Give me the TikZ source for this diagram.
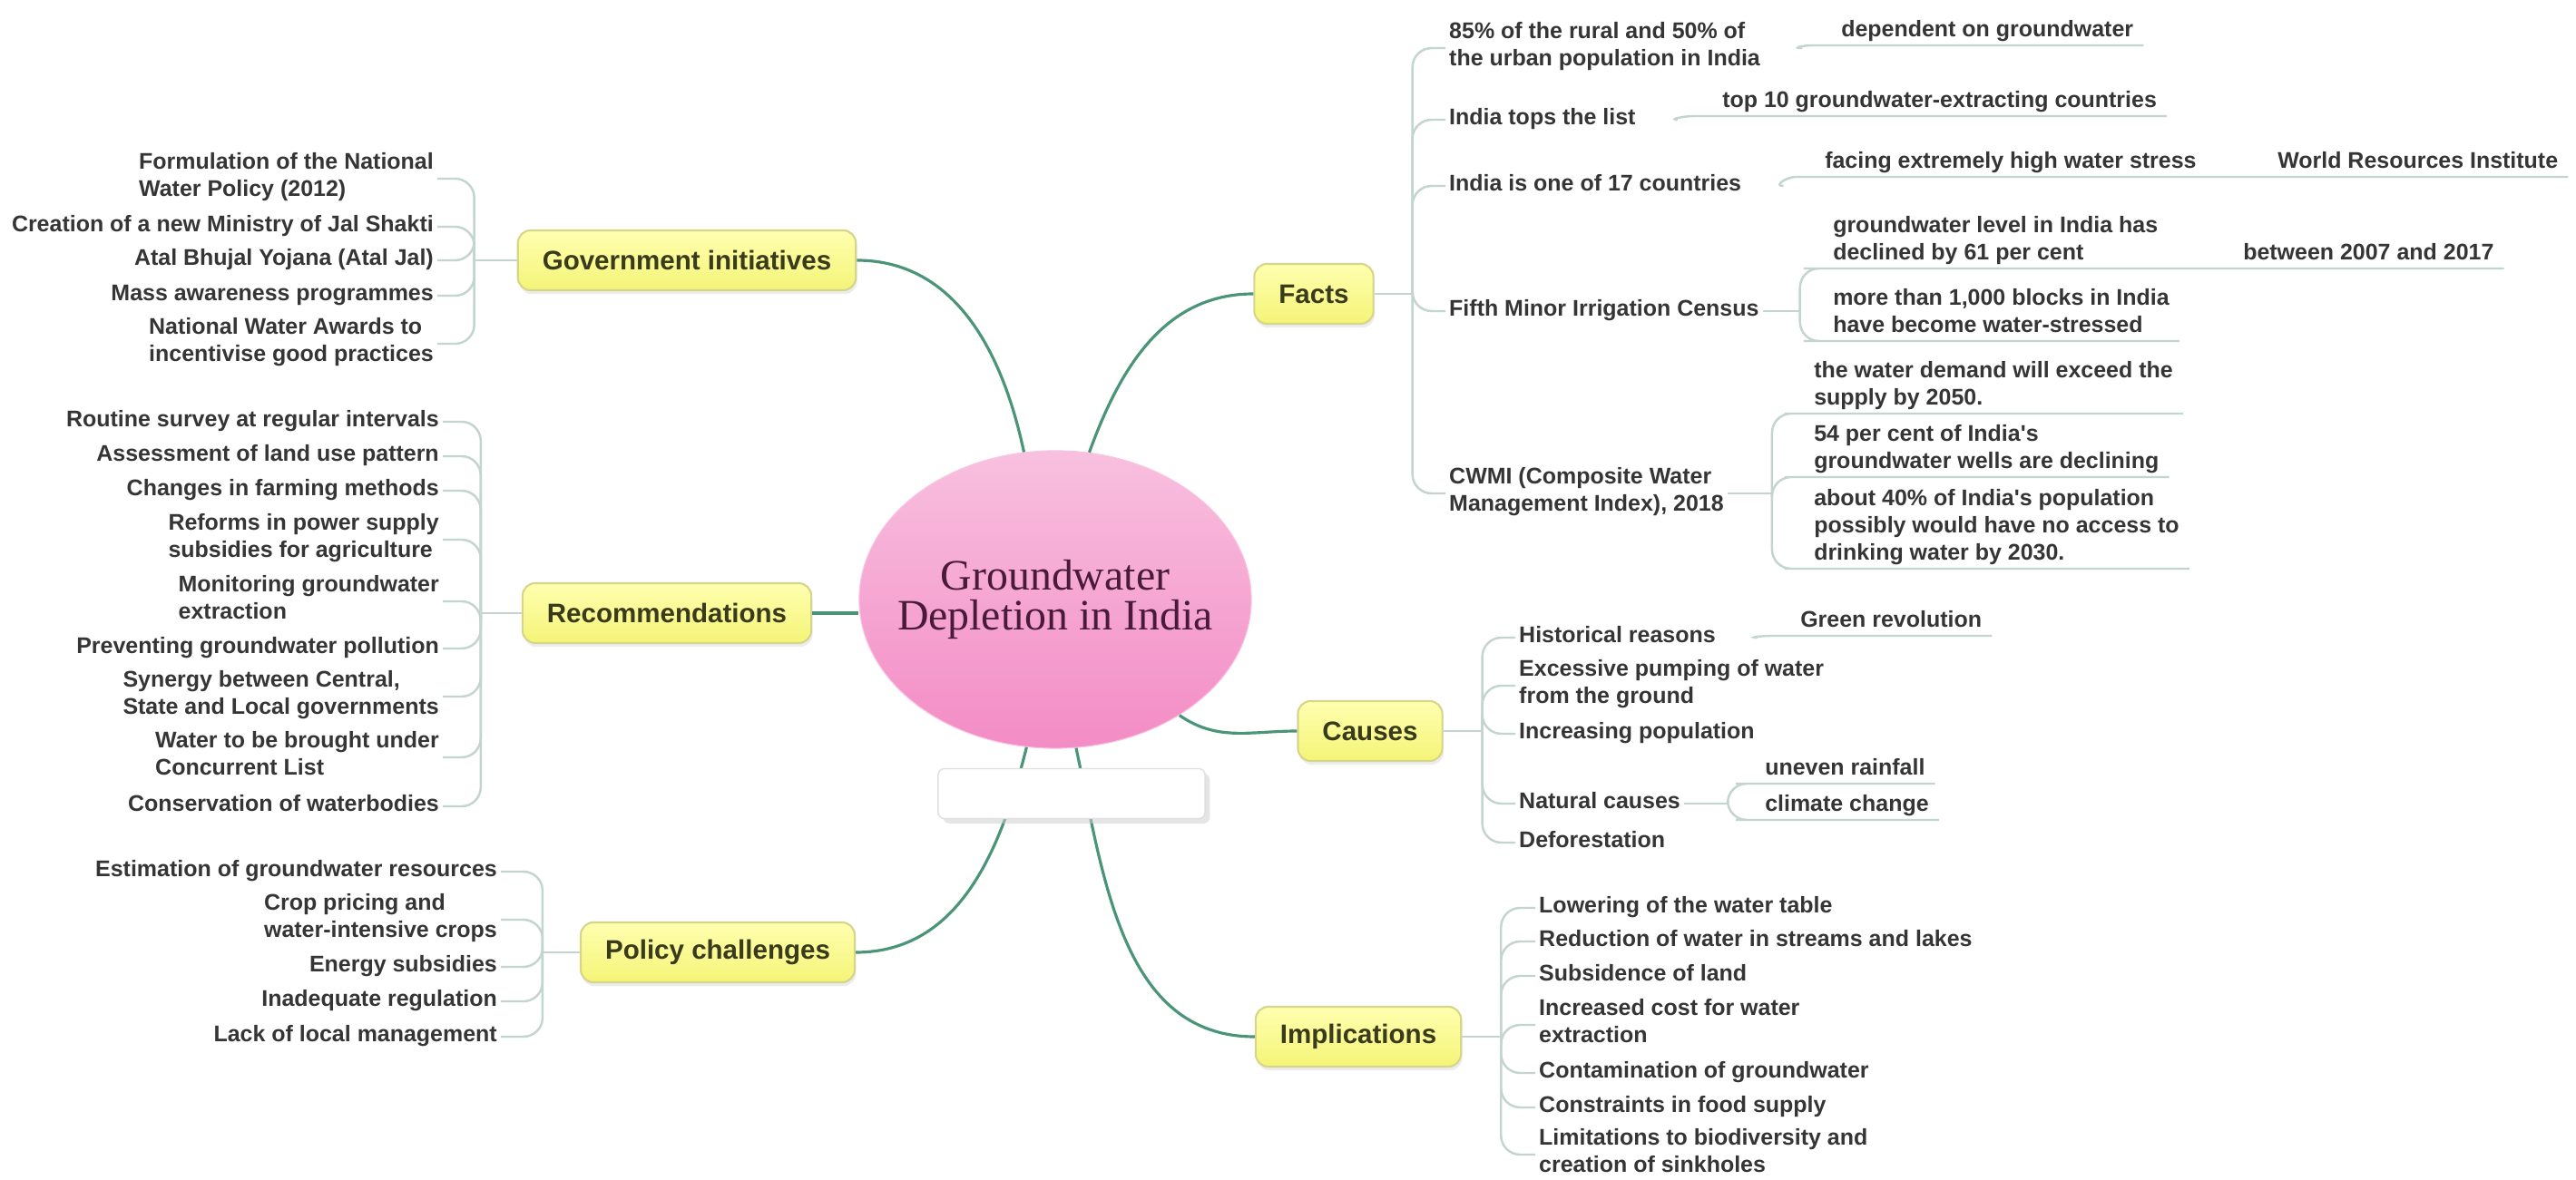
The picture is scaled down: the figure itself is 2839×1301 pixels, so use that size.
\documentclass[tikz,border=0pt]{standalone}
\usepackage{fontspec}
\newfontfamily\mapfont{Liberation Sans}
\newfontfamily\titlefont{Liberation Serif}
\usetikzlibrary{shapes.geometric,shadows}

\definecolor{branchgreen}{HTML}{4A9478}
\definecolor{twiggray}{HTML}{C3D5CE}
\definecolor{topicfillA}{HTML}{FFFFB0}
\definecolor{topicfillB}{HTML}{F4F478}
\definecolor{topicline}{HTML}{D6D68A}
\definecolor{topictext}{HTML}{3A3A1C}
\definecolor{leaftext}{HTML}{353535}
\definecolor{pinktop}{HTML}{F8C0DF}
\definecolor{pinkbot}{HTML}{F38CC5}
\definecolor{titletext}{HTML}{4A1A3A}

\begin{document}
\begin{tikzpicture}[
      x=0.01cm,
      y=0.01cm,
      core/.style={
        ellipse,
        minimum width=4.32cm,
        minimum height=3.28cm,
        inner xsep=-8pt,
        inner ysep=0pt,
        top color=pinktop,
        bottom color=pinkbot,
        draw=pinkbot!50!white,
        line width=0.3pt,
        text=titletext,
        align=center,
        font=\titlefont\fontsize{13.6}{12.5}\selectfont
      },
      topic/.style={
        rounded corners=4pt,
        draw=topicline,
        line width=0.6pt,
        top color=topicfillA,
        bottom color=topicfillB,
        text=topictext,
        font=\mapfont\bfseries\fontsize{8.4}{10}\selectfont,
        minimum height=0.66cm,
        inner xsep=0.27cm,
        drop shadow={opacity=0.15,shadow xshift=0.4pt,shadow yshift=-1.2pt}
      },
      leaf/.style={
        text=leaftext,
        font=\mapfont\bfseries\fontsize{7.1}{8.5}\selectfont,
        align=left,
        inner sep=1pt,
        execute at begin node=\strut,
        execute at end node=\strut
      },
      leafR/.style={leaf,anchor=west},
      leafL/.style={leaf,anchor=east},
      subleaf/.style={
        leaf,
        anchor=south west,
        inner xsep=3pt,
        inner ysep=0pt
      },
      blank/.style={
        draw=gray!25,
        fill=white,
        rounded corners=2pt,
        minimum width=2.94cm,
        minimum height=0.55cm,
        drop shadow={shadow xshift=1.5pt,shadow yshift=-1.5pt,fill=gray!40,opacity=0.5}
      },
      branch/.style={
        draw=branchgreen,
        line width=0.9pt
      },
      twig/.style={
        draw=twiggray,
        line width=0.7pt,
        rounded corners=6pt
      }
    ]
      \path[use as bounding box,fill=white] (0,0) rectangle (2839,-1301);

      \node[core] (gw) at (1163,-661) {Groundwater\\Depletion in India};

      \node[topic] (gov) at (757,-287) {Government initiatives};
      \node[topic] (rec) at (735,-676) {Recommendations};
      \node[topic] (policy) at (791,-1050) {Policy challenges};
      \node[topic] (facts) at (1448,-324) {Facts};
      \node[topic] (causes) at (1510,-806) {Causes};
      \node[topic] (impl) at (1497,-1143) {Implications};

      % left side
      \foreach \y/\n/\txt in {197/gi1/{Formulation of the National\\Water Policy (2012)},
          250/gi2/{Creation of a new Ministry of Jal Shakti},287/gi3/{Atal Bhujal Yojana (Atal Jal)},
          326/gi4/{Mass awareness programmes},379/gi5/{National Water Awards to\\incentivise good practices}}
        \node[leafL] (\n) at (482,-\y) {\txt};

      \foreach \y/\n/\txt in {465/r1/{Routine survey at regular intervals},503/r2/{Assessment of land use pattern},
          541/r3/{Changes in farming methods},595/r4/{Reforms in power supply\\subsidies for agriculture},
          663/r5/{Monitoring groundwater\\extraction},715/r6/{Preventing groundwater pollution},
          768/r7/{Synergy between Central,\\State and Local governments},
          835/r8/{Water to be brought under\\Concurrent List},889/r9/{Conservation of waterbodies}}
        \node[leafL] (\n) at (488,-\y) {\txt};

      \foreach \y/\n/\txt in {961/p1/{Estimation of groundwater resources},1014/p2/{Crop pricing and\\water-intensive crops},
          1066/p3/{Energy subsidies},1104/p4/{Inadequate regulation},1143/p5/{Lack of local management}}
        \node[leafL] (\n) at (552,-\y) {\txt};

      % right side
      \foreach \y/\n/\txt in {53/f1/{85\% of the rural and 50\% of\\the urban population in India},
          132/f2/{India tops the list},205/f3/{India is one of 17 countries},
          343/f4/{Fifth Minor Irrigation Census},544/f5/{CWMI (Composite Water\\Management Index), 2018}}
        \node[leafR] (\n) at (1593,-\y) {\txt};

      \foreach \y/\n/\txt in {703/c1/{Historical reasons},756/c2/{Excessive pumping of water\\from the ground},
          809/c3/{Increasing population},886/c4/{Natural causes},929/c5/{Deforestation}}
        \node[leafR] (\n) at (1670,-\y) {\txt};

      \foreach \y/\n/\txt in {1001/i1/{Lowering of the water table},1038/i2/{Reduction of water in streams and lakes},
          1076/i3/{Subsidence of land},1130/i4/{Increased cost for water\\extraction},
          1183/i5/{Contamination of groundwater},1221/i6/{Constraints in food supply},
          1273/i7/{Limitations to biodiversity and\\creation of sinkholes}}
        \node[leafR] (\n) at (1692,-\y) {\txt};

      \foreach \x/\y/\n/\txt in {2018/50/dep/{dependent on groundwater},1887/128/top/{top 10 groundwater-extracting countries},
          2000/195/face/{facing extremely high water stress},2499/195/wri/{World Resources Institute},
          2009/296/m1/{groundwater level in India has\\declined by 61 per cent},2461/296/btw/{between 2007 and 2017},
          2009/376/m2/{more than 1,000 blocks in India\\have become water-stressed},
          1988/456/w1/{the water demand will exceed the\\supply by 2050.},
          1988/526/w2/{54 per cent of India's\\groundwater wells are declining},
          1988/627/w3/{about 40\% of India's population\\possibly would have no access to\\drinking water by 2030.},
          1973/701/green/{Green revolution},1934/864/rain/{uneven rainfall},1934/904/clim/{climate change}}
        \node[subleaf] (\n) at (\x,-\y) {\txt};

      % spines
      \draw[twig] (gov.west) -- ++(-47,0) coordinate (gsp);
      \foreach \n in {gi1,gi2,gi3,gi4,gi5}
        \draw[twig] (gsp) |- (\n.east);
      \draw[twig] (rec.west) -- ++(-45,0) coordinate (rsp);
      \foreach \n in {r1,r2,r3,r4,r5,r6,r7,r8,r9}
        \draw[twig] (rsp) |- (\n.east);
      \draw[twig] (policy.west) -- ++(-41,0) coordinate (psp);
      \foreach \n in {p1,p2,p3,p4,p5}
        \draw[twig] (psp) |- (\n.east);
      \draw[twig] (facts.east) -- ++(42,0) coordinate (fsp);
      \foreach \n in {f1,f2,f3,f4,f5}
        \draw[twig] (fsp) |- (\n.west);
      \draw[twig] (causes.east) -- ++(43,0) coordinate (csp);
      \foreach \n in {c1,c2,c3,c4,c5}
        \draw[twig] (csp) |- (\n.west);
      \draw[twig] (impl.east) -- ++(43,0) coordinate (isp);
      \foreach \n in {i1,i2,i3,i4,i5,i6,i7}
        \draw[twig] (isp) |- (\n.west);

      \draw[twig,shorten <=12pt] (f1.east) to[out=0,in=180] (dep.south west) -- (dep.south east);
      \draw[twig,shorten <=12pt] (f2.east) to[out=0,in=180] (top.south west) -- (top.south east);
      \draw[twig,shorten <=12pt] (f3.east) to[out=0,in=180] (face.south west) -- (face.south east)
        -- (wri.south west) -- (wri.south east);
      \draw[twig,shorten <=12pt] (c1.east) to[out=0,in=180] (green.south west) -- (green.south east);

      \draw[twig] (f4.east) -- ++(41,0) coordinate (f4s);
      \draw[twig] (f4s) |- (m1.south west) -- (m1.south east) -- (btw.south west) -- (btw.south east);
      \draw[twig] (f4s) |- (m2.south west) -- (m2.south east);
      \draw[twig] (f5.east) -- ++(49,0) coordinate (f5s);
      \foreach \n in {w1,w2,w3}
        \draw[twig] (f5s) |- (\n.south west) -- (\n.south east);
      \draw[twig] (c4.east) -- ++(48,0) coordinate (c4s);
      \foreach \n in {rain,clim}
        \draw[twig] (c4s) |- (\n.south west) -- (\n.south east);

      % main branches
      \draw[branch] (gov.east) to[out=0,in=102] (gw.102);
      \draw[branch] (gw.77) to[out=70,in=180] (facts.west);
      \draw[branch] (rec.east) -- (rec.east -| gw.west);
      \draw[branch] (gw.-43) to[out=-35,in=180] (causes.west);
      \draw[branch] (gw.259) to[out=256,in=0] (policy.east);
      \draw[branch] (gw.278) to[out=282,in=180] (impl.west);

      \node[blank] (note) at (1181,-875) {};
    \end{tikzpicture}
\end{document}
